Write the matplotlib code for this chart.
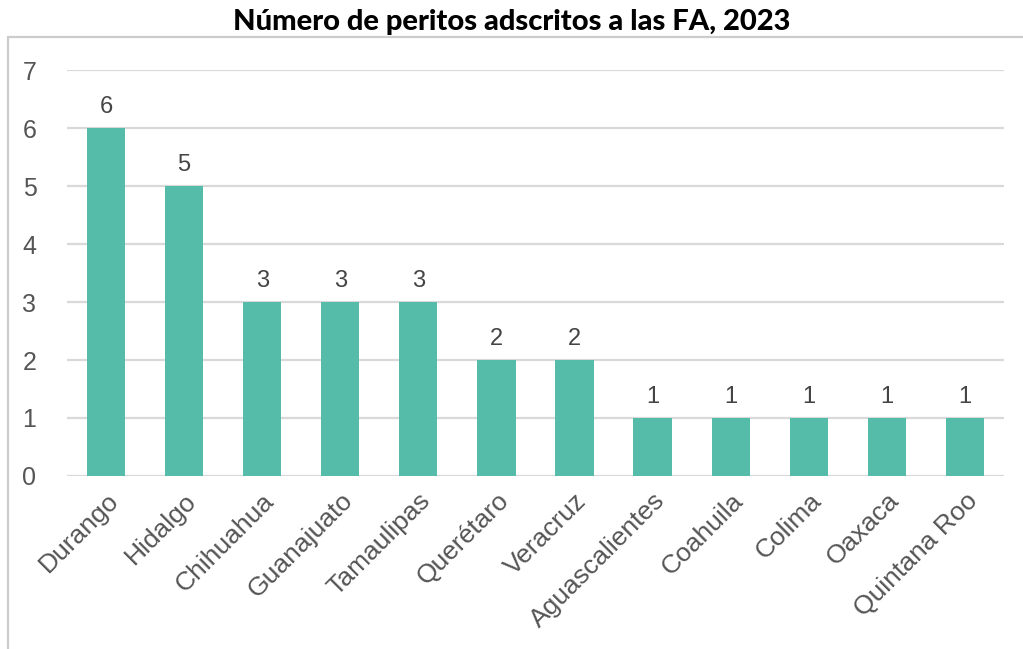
import matplotlib.pyplot as plt
from matplotlib.patches import Rectangle

estados = ["Durango", "Hidalgo", "Chihuahua", "Guanajuato", "Tamaulipas", "Querétaro",
           "Veracruz", "Aguascalientes", "Coahuila", "Colima", "Oaxaca", "Quintana Roo"]
peritos = [6, 5, 3, 3, 3, 2, 2, 1, 1, 1, 1, 1]
yticks = [0, 1, 2, 3, 4, 5, 6, 7]

plt.rcParams['font.family'] = ['Liberation Sans', 'DejaVu Sans']

fig = plt.figure(figsize=(10.23, 6.49), dpi=100)
ax = fig.add_axes([0.0655, 0.2666, 0.9159, 0.6254])

x = range(len(estados))
ax.bar(x, peritos, width=0.49, color="#55bca9", zorder=3)
for i, v in zip(x, peritos):
    ax.text(i, v + 0.17, str(v), ha="center", va="bottom", fontsize=17, color="#444444")

ax.set_xlim(-0.5, len(estados) - 0.5)
ax.set_ylim(0, 7)
ax.set_yticks(yticks)
ax.set_xticks(list(x))
ax.set_xticklabels(estados, rotation=45, ha="right", rotation_mode="anchor",
                   fontsize=19, color="#555555")
ax.tick_params(axis="y", labelsize=18, labelcolor="#555555", length=0, pad=22)
ax.tick_params(axis="x", length=0, pad=9)
ax.grid(axis="y", color="#d9d9d9", linewidth=1.6, zorder=0)
for s in ax.spines.values():
    s.set_visible(False)

# marco gris
fig.patches.append(Rectangle((0.008, -0.01), 1.1, 0.953, transform=fig.transFigure,
                             fill=False, edgecolor="#cccccc", linewidth=1.6))

fig.text(0.5, 0.966, "Número de peritos adscritos a las FA, 2023", ha="center", va="center",
         fontsize=21, fontweight="black", family=["Lato", "DejaVu Sans"], color="black")

fig.savefig("out.png", dpi=100)
